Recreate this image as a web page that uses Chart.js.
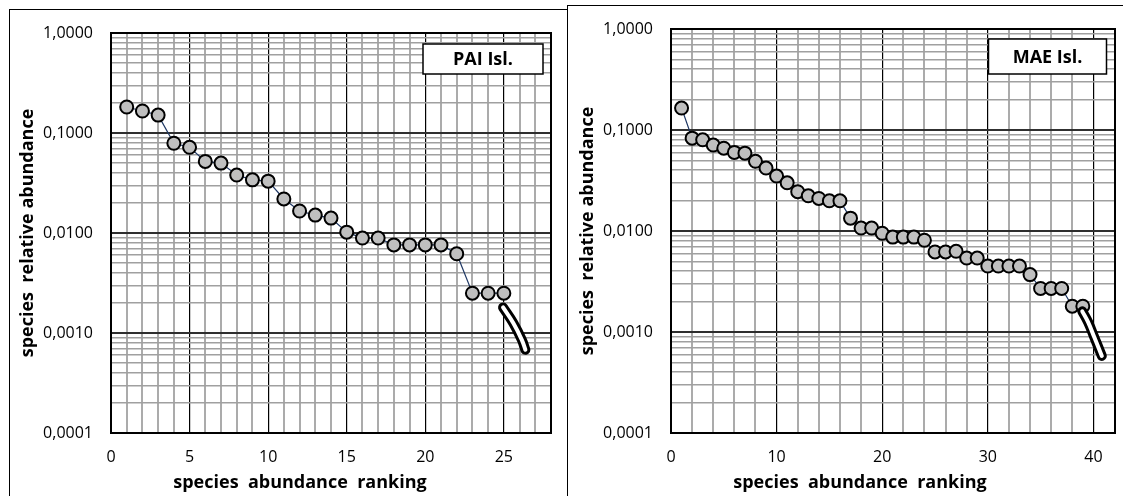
<!DOCTYPE html>
<html><head><meta charset="utf-8">
<script src="https://cdn.jsdelivr.net/npm/chart.js@4/dist/chart.umd.min.js"></script>
<style>
html,body{margin:0;padding:0;background:#fff;width:1123px;height:496px;overflow:hidden;position:relative}
.panel{position:absolute;border:1px solid #000;background:#fff;box-sizing:border-box}
.wrap{position:absolute}
canvas{display:block}
</style></head><body>
<div class="panel" style="left:9px;top:9px;width:575px;height:520px"></div>
<div class="panel" style="left:567px;top:5px;width:570px;height:520px"></div>
<div class="wrap" style="left:10px;top:10px;width:557px;height:486px"><canvas id="c1" width="557" height="486"></canvas></div>
<div class="wrap" style="left:568px;top:6px;width:555px;height:490px"><canvas id="c2" width="555" height="490"></canvas></div>
<script>
// ---- data ----
const paiRank = [1,2,3,4,5,6,7,8,9,10,11,12,13,14,15,16,17,18,19,20,21,22,23,24,25];
const paiAbund = [0.182,0.166,0.151,0.079,0.072,0.052,0.050,0.038,0.034,0.033,0.0219,0.0166,0.0151,0.0141,0.0102,0.0089,0.0089,0.0076,0.0076,0.0076,0.0076,0.0062,0.0025,0.0025,0.0025];
const paiTailX = [24.95,25.6,26.15,26.37];
const paiTailY = [0.0018,0.00126,0.00085,0.00068];

const maeRank = [1,2,3,4,5,6,7,8,9,10,11,12,13,14,15,16,17,18,19,20,21,22,23,24,25,26,27,28,29,30,31,32,33,34,35,36,37,38,39];
const maeAbund = [0.165,0.083,0.080,0.071,0.066,0.060,0.059,0.049,0.042,0.035,0.030,0.0245,0.0223,0.021,0.0199,0.0199,0.0134,0.0107,0.0107,0.0095,0.0087,0.0087,0.0087,0.0081,0.0062,0.0062,0.0063,0.0054,0.0054,0.0045,0.0045,0.0045,0.0045,0.0037,0.0027,0.0027,0.0027,0.0018,0.0018];
const maeTailX = [38.95,39.5,40.1,40.8];
const maeTailY = [0.0016,0.00125,0.00088,0.00058];

const yDecades = [0.0001,0.001,0.01,0.1,1];
const yTickLabels = ['0,0001','0,0010','0,0100','0,1000','1,0000'];
const minorMultipliers = [2,3,4,5,6,7,8,9];

const yTitle = 'species  relative abundance';
const xTitle = 'species  abundance  ranking';

function isDecade(v){const l=Math.log10(v);return Math.abs(l-Math.round(l))<1e-9;}
function buildYTicks(){
  const t=[];
  for(let i=0;i<yDecades.length;i++){
    t.push(yDecades[i]);
    if(i<yDecades.length-1) minorMultipliers.forEach(m=>t.push(+(yDecades[i]*m).toPrecision(6)));
  }
  return t;
}
function pts(xs,ys){return xs.map((x,i)=>({x:x,y:ys[i]}));}

const frame={id:'frame',afterDatasetsDraw(chart,args,opts){
  const a=chart.chartArea,ctx=chart.ctx;
  ctx.save();ctx.strokeStyle='#000';ctx.lineWidth=2;
  ctx.strokeRect(Math.round(a.left),Math.round(a.top),Math.round(a.right-a.left),Math.round(a.bottom-a.top));
  // label box
  const b=opts.box;
  const x=a.right-b.dr-b.w, y=a.top+b.dt;
  ctx.fillStyle='#fff';ctx.fillRect(x,y,b.w,b.h);
  ctx.lineWidth=1.5;ctx.strokeStyle='#000';ctx.strokeRect(x,y,b.w,b.h);
  ctx.fillStyle='#000';ctx.font='bold 18px "Open Sans"';ctx.textAlign='center';ctx.textBaseline='middle';
  ctx.fillText(b.text,x+b.w/2,y+b.h/2+1);
  // axis titles
  const t=opts.titles;
  ctx.font='bold 18px "Open Sans"';
  ctx.fillText(xTitle,t.xx,t.xy);
  ctx.save();ctx.translate(t.yx,t.yy);ctx.rotate(-Math.PI/2);ctx.fillText(yTitle,0,0);ctx.restore();
  ctx.restore();
}};

function makeChart(id,rank,abund,tailX,tailY,xMax,xStep,xLabelStep,area,box,titles){
  const cv=document.getElementById(id);
  const W=cv.width,H=cv.height;
  const yTicks=buildYTicks();
  new Chart(cv,{
    type:'line',
    data:{datasets:[
      {data:pts(tailX,tailY),borderColor:'#fff',borderWidth:4,pointRadius:0,tension:0.4,borderCapStyle:'round',order:0},
      {data:pts(tailX,tailY),borderColor:'#000',borderWidth:10,pointRadius:0,tension:0.4,borderCapStyle:'round',order:1},
      {data:pts(rank,abund),borderColor:'#1F3864',borderWidth:1.2,pointRadius:6.5,pointHoverRadius:6.5,
       pointBackgroundColor:'#BFBFBF',pointBorderColor:'#000',pointBorderWidth:2,tension:0,order:2}
    ]},
    options:{
      responsive:false,animation:false,
      layout:{padding:{left:0,top:area.top,right:W-area.right,bottom:0}},
      plugins:{legend:{display:false},tooltip:{enabled:false},frame:{box:box,titles:titles}},
      scales:{
        x:{type:'linear',min:0,max:xMax,
          afterBuildTicks(s){const t=[];for(let v=0;v<=xMax+1e-9;v+=xStep)t.push({value:v});s.ticks=t;},
          afterFit(s){s.height=H-area.bottom;s.paddingLeft=0;s.paddingRight=0;},
          grid:{drawTicks:false,color:c=>(c.tick&&c.tick.value%xLabelStep===0)?'#000':'#ABABAB',
                lineWidth:c=>(c.tick&&c.tick.value%xLabelStep===0)?1.2:2},
          border:{display:false},
          ticks:{autoSkip:false,maxRotation:0,padding:15,color:'#000',font:{family:'Open Sans',size:16},
            callback:v=>(v%xLabelStep===0?String(v):'')},
          title:{display:false}
        },
        y:{type:'logarithmic',min:0.0001,max:1,
          afterBuildTicks(s){s.ticks=yTicks.map(v=>({value:v}));},
          afterFit(s){s.width=area.left;s.paddingTop=0;s.paddingBottom=0;},
          grid:{drawTicks:false,color:c=>(c.tick&&isDecade(c.tick.value))?'#303030':'#A0A0A0',
                lineWidth:c=>(c.tick&&isDecade(c.tick.value))?2:1.5},
          border:{display:false},
          ticks:{autoSkip:false,padding:18,color:'#000',font:{family:'Open Sans',size:16},
            callback:v=>{const i=yDecades.findIndex(d=>Math.abs(d-v)/d<1e-6);return i>=0?yTickLabels[i]:'';}},
          title:{display:false}
        }
      }
    },
    plugins:[frame]
  });
}
makeChart('c1',paiRank,paiAbund,paiTailX,paiTailY,28,1,5,{left:101,top:23,right:541,bottom:423},
  {text:'PAI Isl.',w:120,h:30,dr:8,dt:11},{xx:290,xy:473,yx:18,yy:223});
makeChart('c2',maeRank,maeAbund,maeTailX,maeTailY,42,2,10,{left:103,top:23,right:547,bottom:427},
  {text:'MAE Isl.',w:118,h:35,dr:8,dt:10},{xx:292,xy:477,yx:20,yy:225});
</script>
</body></html>
